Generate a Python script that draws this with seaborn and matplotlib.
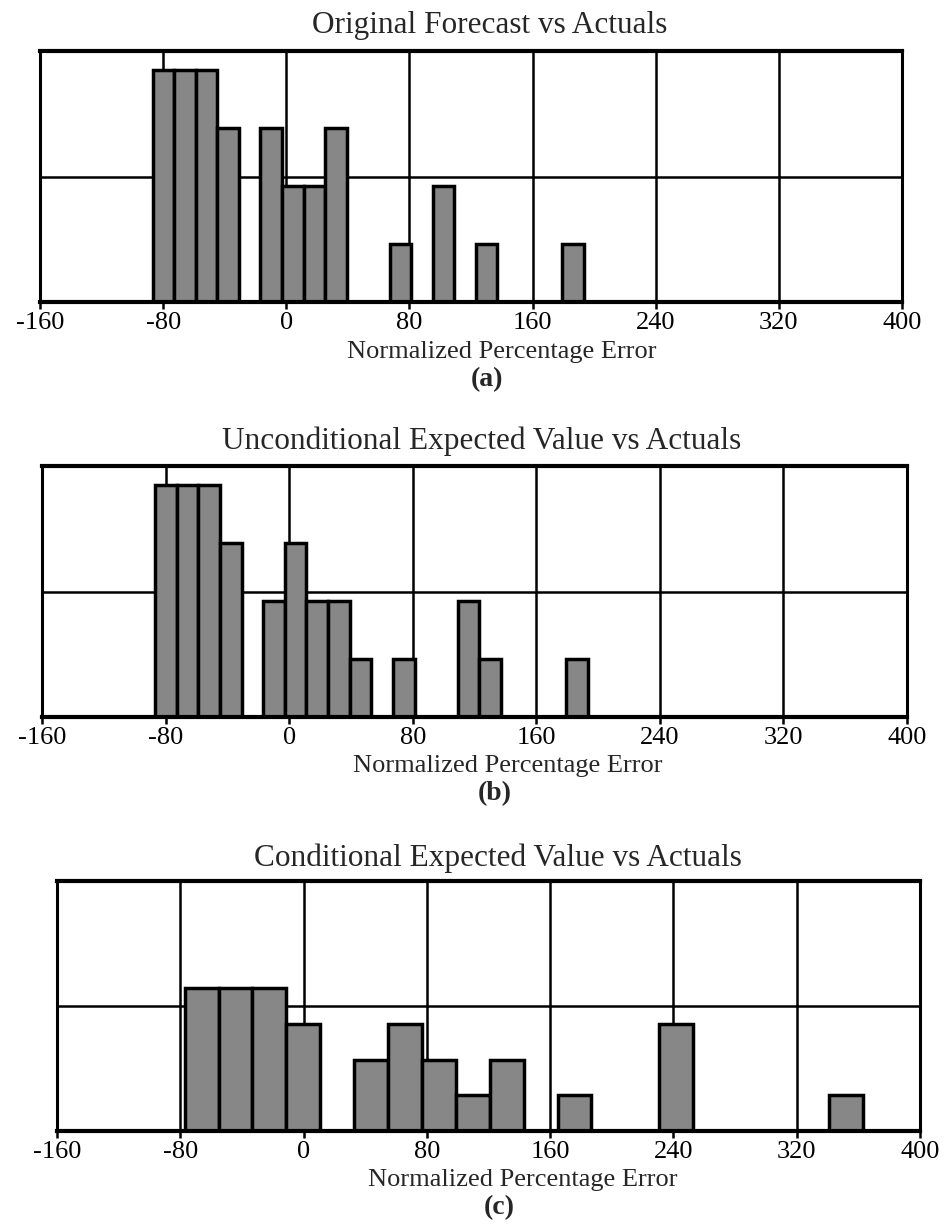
import numpy as np
import matplotlib
matplotlib.use("Agg")
import matplotlib.pyplot as plt
import seaborn as sns

# bin centres and counts (20 bins each)
ab_centers = [-79.8, -65.8, -51.8, -37.8, -23.8, -9.8, 4.2, 18.2, 32.2, 46.2,
              60.2, 74.2, 88.2, 102.2, 116.2, 130.2, 144.2, 158.2, 172.2, 186.2]
ab_range = (-86.8, 193.2)
a_counts = [4, 4, 4, 3, 0, 3, 2, 2, 3, 0, 0, 1, 0, 2, 0, 1, 0, 0, 0, 1]
b_counts = [4, 4, 4, 3, 0, 2, 3, 2, 2, 1, 0, 1, 0, 0, 2, 1, 0, 0, 0, 1]

c_centers = [-66.2, -44.2, -22.2, -0.2, 21.8, 43.8, 65.8, 87.8, 109.8, 131.8,
             153.8, 175.8, 197.8, 219.8, 241.8, 263.8, 285.8, 307.8, 329.8, 351.8]
c_range = (-77.2, 362.8)
c_counts = [4, 4, 4, 3, 0, 2, 3, 2, 1, 2, 0, 1, 0, 0, 3, 0, 0, 0, 0, 1]

x_ticks = [-160, -80, 0, 80, 160, 240, 320, 400]
titles = ["Original Forecast vs Actuals",
          "Unconditional Expected Value vs Actuals",
          "Conditional Expected Value vs Actuals"]
letters = ["(a)", "(b)", "(c)"]
xlab = "Normalized Percentage Error"

sns.set_style("white")
plt.rcParams['font.family'] = ['Liberation Serif', 'DejaVu Serif']

W, H = 946, 1224
fig = plt.figure(figsize=(W / 100, H / 100), dpi=100)

# axes boxes in pixels: left, top, right, bottom
boxes = [(40, 51, 902, 302), (42, 466, 907, 717), (57, 881, 920, 1131)]
ymaxes = [4.32, 4.32, 7.0]
title_y = [25, 441, 858]
label_y = [352, 766, 1180]
letter_y = [380, 794, 1208]
title_x = [490, 482, 498]
label_x = [502, 508, 523]
letter_x = [487, 495, 499]

panels = [(ab_centers, a_counts, ab_range),
          (ab_centers, b_counts, ab_range),
          (c_centers, c_counts, c_range)]

for i, (cent, cnt, rng) in enumerate(panels):
    l, t, r, b = boxes[i]
    ax = fig.add_axes([l / W, 1 - b / H, (r - l) / W, (b - t) / H])
    sns.histplot(x=cent, weights=cnt, bins=20, binrange=rng, ax=ax,
                 color="#878787", edgecolor="black", linewidth=2.5, alpha=1,
                 zorder=3)
    ax.set_xlim(-160, 400)
    ax.set_ylim(0, ymaxes[i])
    ax.set_xticks(x_ticks)
    ax.set_xticklabels([str(v) for v in x_ticks], fontsize=19)
    ax.set_yticks([ymaxes[i] / 2])
    ax.set_yticklabels([])
    ax.tick_params(axis='y', length=0)
    ax.tick_params(axis='x', direction='out', length=5, width=1.8, pad=2,
                   colors='black', bottom=True)
    ax.grid(True, color='black', linewidth=1.8, zorder=1)
    ax.set_axisbelow(True)
    ax.set_xlabel("")
    ax.set_ylabel("")
    for side, sp in ax.spines.items():
        sp.set_visible(True)
        sp.set_color('black')
        sp.set_linewidth(3.0 if side in ('top', 'bottom') else 2.2)
        sp.set_zorder(4)

    fig.text(title_x[i] / W, 1 - title_y[i] / H, titles[i], ha='center',
             va='center', fontsize=22.5)
    fig.text(label_x[i] / W, 1 - label_y[i] / H, xlab, ha='center',
             va='center', fontsize=19)
    fig.text(letter_x[i] / W, 1 - letter_y[i] / H, letters[i], ha='center',
             va='center', fontsize=20, fontweight='bold')

fig.savefig("out.png", dpi=100)
